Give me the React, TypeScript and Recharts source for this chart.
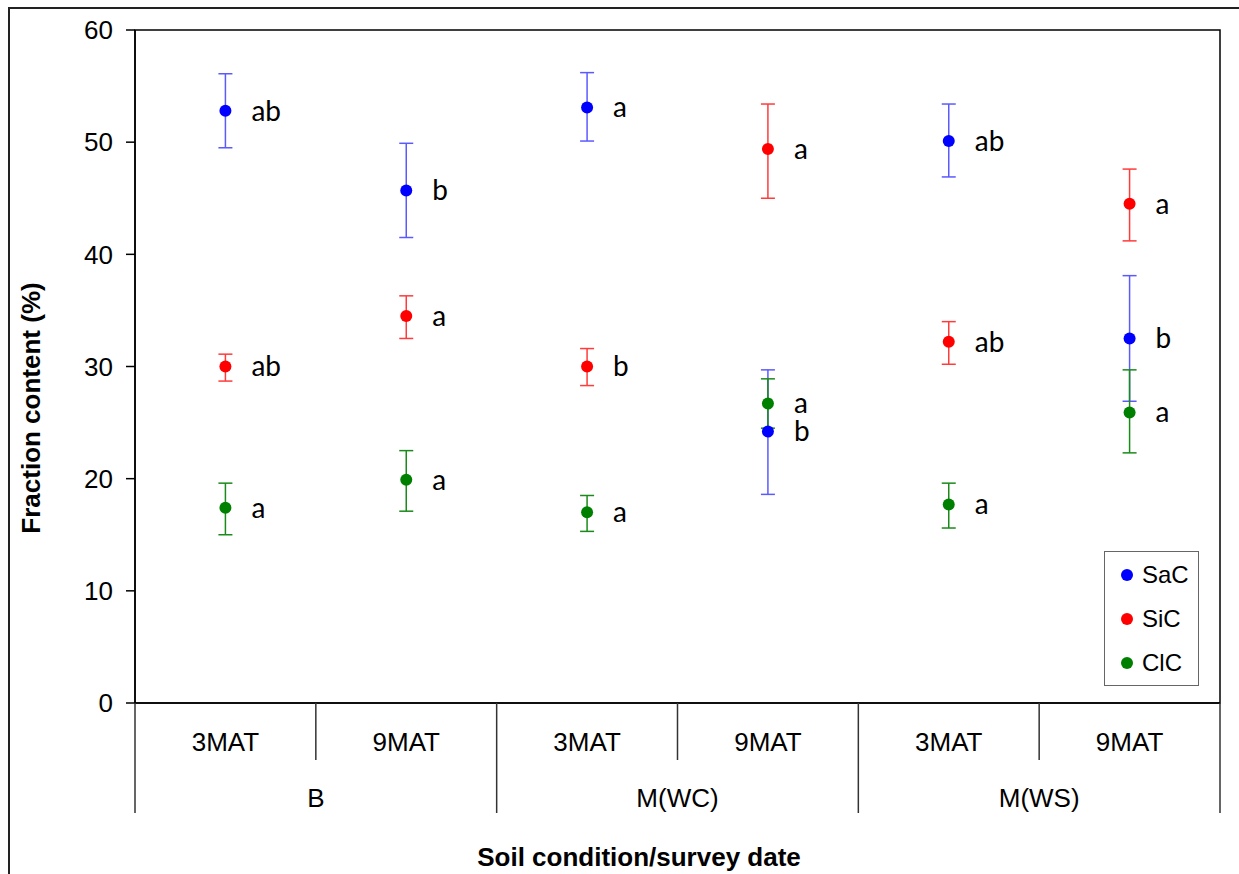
import React from 'react';
import {
  ComposedChart,
  Line,
  XAxis,
  YAxis,
  ErrorBar,
  LabelList,
  ReferenceArea,
  Legend,
} from 'recharts';

// ─── Fraction content by soil condition / survey date ───────────
// Mean ± error for sand (SaC), silt (SiC) and clay (ClC) fractions,
// with significance letters next to each point.

const groups = ['B', 'B', 'M(WC)', 'M(WC)', 'M(WS)', 'M(WS)'];
const dates = ['3MAT', '9MAT', '3MAT', '9MAT', '3MAT', '9MAT'];
const yTicks = [0, 10, 20, 30, 40, 50, 60];

const sacMean = [52.8, 45.7, 53.1, 24.2, 50.1, 32.5];
const sacLow = [49.5, 41.5, 50.1, 18.6, 46.9, 26.9];
const sacHigh = [56.1, 49.9, 56.2, 29.7, 53.4, 38.1];
const sacSig = ['ab', 'b', 'a', 'b', 'ab', 'b'];

const sicMean = [30.0, 34.5, 30.0, 49.4, 32.2, 44.5];
const sicLow = [28.7, 32.5, 28.3, 45.0, 30.2, 41.2];
const sicHigh = [31.1, 36.3, 31.6, 53.4, 34.0, 47.6];
const sicSig = ['ab', 'a', 'b', 'a', 'ab', 'a'];

const clcMean = [17.4, 19.9, 17.0, 26.7, 17.7, 25.9];
const clcLow = [15.0, 17.1, 15.3, 24.5, 15.6, 22.3];
const clcHigh = [19.6, 22.5, 18.5, 28.9, 19.6, 29.7];
const clcSig = ['a', 'a', 'a', 'a', 'a', 'a'];

const series = [
  { key: 'sac', name: 'SaC', color: '#0000ff', bar: '#5a5aff', mean: sacMean, low: sacLow, high: sacHigh, sig: sacSig },
  { key: 'sic', name: 'SiC', color: '#ff0000', bar: '#ff3b3b', mean: sicMean, low: sicLow, high: sicHigh, sig: sicSig },
  { key: 'clc', name: 'ClC', color: '#008000', bar: '#1a8a1a', mean: clcMean, low: clcLow, high: clcHigh, sig: clcSig },
];

const data = dates.map((d, i) => {
  const row: Record<string, any> = { cat: `${groups[i]} ${d}` };
  series.forEach((s) => {
    row[s.key] = s.mean[i];
    row[`${s.key}Err`] = [s.mean[i] - s.low[i], s.high[i] - s.mean[i]];
    row[`${s.key}Sig`] = s.sig[i];
  });
  return row;
});

const W = 1231;
const H = 867;
const MARGIN = { top: 23, right: 19, left: 0, bottom: 0 };
const Y_AXIS_W = 127;
const X_AXIS_H = 171;
const BAND = (W - MARGIN.right - Y_AXIS_W) / dates.length;
const ARIAL = '"Liberation Sans", Arial, sans-serif';

function CategoryTick(props: any) {
  const { x, y, index } = props;
  const left = x - BAND / 2;
  const groupStart = index % 2 === 0;
  return (
    <g>
      <line x1={left} y1={y} x2={left} y2={y + (groupStart ? 110 : 57)} stroke="#333" strokeWidth={1.5} />
      {index === dates.length - 1 && (
        <line x1={x + BAND / 2} y1={y} x2={x + BAND / 2} y2={y + 110} stroke="#333" strokeWidth={1.5} />
      )}
      <text x={x} y={y + 39} textAnchor="middle" dominantBaseline="central" fill="#000" fontSize={26} fontFamily={ARIAL}>
        {dates[index]}
      </text>
      {groupStart && (
        <text x={x + BAND / 2} y={y + 95} textAnchor="middle" dominantBaseline="central" fill="#000" fontSize={26} fontFamily={ARIAL}>
          {groups[index]}
        </text>
      )}
    </g>
  );
}

function LegendBox() {
  return (
    <div
      style={{
        width: 95,
        height: 135,
        border: '1.5px solid #666',
        boxSizing: 'border-box',
        background: '#fff',
        position: 'relative',
        fontFamily: ARIAL,
        fontSize: 24,
        color: '#000',
      }}
    >
      {series.map((s, i) => (
        <div
          key={s.key}
          style={{ position: 'absolute', left: 16, top: 11 + i * 44, height: 24, display: 'flex', alignItems: 'center' }}
        >
          <span style={{ width: 12, height: 12, borderRadius: 6, background: s.color, marginRight: 9 }} />
          <span>{s.name}</span>
        </div>
      ))}
    </div>
  );
}

export default function App() {
  // fixed so the frame can run off the page without adding scrollbars
  return (
    <div style={{ position: 'fixed', left: 8, top: 7, width: W, height: H, overflow: 'hidden', background: '#fff' }}>
      {/* outer frame: only its left and top edges fall inside the picture */}
      <div style={{ position: 'absolute', left: 0, top: 0, width: 2, height: H, background: '#222' }} />
      <div style={{ position: 'absolute', left: 0, top: 0, width: W, height: 2, background: '#222' }} />
      <ComposedChart width={W} height={H} data={data} margin={MARGIN}>
        <XAxis
          dataKey="cat"
          scale="band"
          height={X_AXIS_H}
          interval={0}
          tick={<CategoryTick />}
          tickLine={false}
          tickSize={0}
          tickMargin={0}
          axisLine={{ stroke: '#000', strokeWidth: 1.5 }}
        />
        <YAxis
          width={Y_AXIS_W}
          domain={[0, 60]}
          ticks={yTicks}
          tickSize={9}
          tickMargin={13}
          axisLine={{ stroke: '#000', strokeWidth: 1.5 }}
          tickLine={{ stroke: '#000', strokeWidth: 1.5 }}
          tick={{ fill: '#000', fontSize: 26, fontFamily: ARIAL }}
        />
        <ReferenceArea y1={0} y2={60} fill="none" stroke="#000" strokeWidth={1.5} ifOverflow="visible" />
        {series.map((s) => (
          <Line
            key={s.key}
            dataKey={s.key}
            name={s.name}
            stroke="none"
            isAnimationActive={false}
            dot={{ r: 6, fill: s.color, stroke: s.color, strokeWidth: 0 }}
            activeDot={false}
          >
            <ErrorBar dataKey={`${s.key}Err`} direction="y" width={7} stroke={s.bar} strokeWidth={1.5} />
            <LabelList
              dataKey={`${s.key}Sig`}
              position="right"
              offset={26}
              fill="#000"
              fontSize={28}
              fontFamily="Lato, 'Open Sans', sans-serif"
            />
          </Line>
        ))}
        <Legend
          layout="horizontal"
          verticalAlign="middle"
          content={<LegendBox />}
          wrapperStyle={{ position: 'absolute', left: 1096, top: 544, width: 95, height: 135 }}
        />
      </ComposedChart>
      <div
        style={{
          position: 'absolute',
          left: 631,
          top: 850,
          transform: 'translate(-50%, -50%)',
          whiteSpace: 'nowrap',
          fontFamily: ARIAL,
          fontWeight: 'bold',
          fontSize: 26,
          color: '#000',
        }}
      >
        Soil condition/survey date
      </div>
      <div
        style={{
          position: 'absolute',
          left: 23,
          top: 401,
          transform: 'translate(-50%, -50%) rotate(-90deg)',
          whiteSpace: 'nowrap',
          fontFamily: ARIAL,
          fontWeight: 'bold',
          fontSize: 26,
          color: '#000',
        }}
      >
        Fraction content (%)
      </div>
    </div>
  );
}
